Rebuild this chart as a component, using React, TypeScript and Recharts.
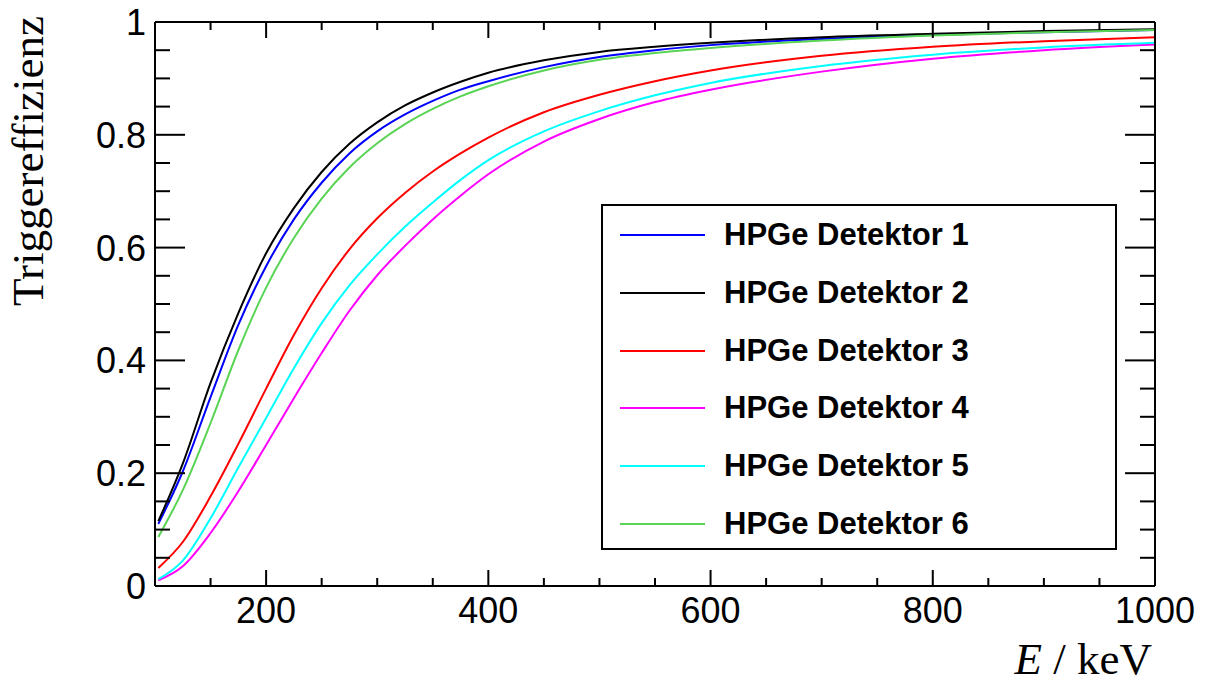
import React from "react";
import { Legend, Line, LineChart, XAxis, YAxis } from "recharts";

// energies in keV, efficiencies
const energies = [103, 125, 150, 175, 200, 225, 250, 275, 300, 325, 350, 375, 400, 450, 500, 550, 600, 700, 800, 900, 1000];

const det1 = [0.11, 0.203, 0.335, 0.463, 0.567, 0.65, 0.715, 0.767, 0.806, 0.836, 0.86, 0.88, 0.895, 0.92, 0.938, 0.95, 0.959, 0.97, 0.977, 0.982, 0.986];
const det2 = [0.115, 0.217, 0.36, 0.484, 0.59, 0.67, 0.734, 0.784, 0.822, 0.852, 0.875, 0.894, 0.91, 0.932, 0.947, 0.956, 0.963, 0.973, 0.979, 0.984, 0.987];
const det3 = [0.032, 0.078, 0.159, 0.252, 0.35, 0.445, 0.528, 0.597, 0.652, 0.697, 0.735, 0.767, 0.795, 0.84, 0.871, 0.895, 0.914, 0.94, 0.956, 0.966, 0.973];
const det4 = [0.01, 0.035, 0.094, 0.168, 0.25, 0.333, 0.413, 0.488, 0.551, 0.603, 0.65, 0.692, 0.73, 0.788, 0.828, 0.858, 0.88, 0.912, 0.935, 0.95, 0.96];
const det5 = [0.012, 0.045, 0.12, 0.21, 0.298, 0.386, 0.466, 0.533, 0.588, 0.637, 0.68, 0.72, 0.755, 0.806, 0.842, 0.87, 0.892, 0.922, 0.942, 0.955, 0.963];
const det6 = [0.087, 0.17, 0.289, 0.418, 0.529, 0.617, 0.687, 0.742, 0.785, 0.819, 0.846, 0.868, 0.886, 0.914, 0.933, 0.945, 0.954, 0.967, 0.976, 0.982, 0.986];

const series = [
  { key: "d1", name: "HPGe Detektor 1", color: "#0000ff", values: det1 },
  { key: "d2", name: "HPGe Detektor 2", color: "#000000", values: det2 },
  { key: "d3", name: "HPGe Detektor 3", color: "#ff0000", values: det3 },
  { key: "d4", name: "HPGe Detektor 4", color: "#ff00ff", values: det4 },
  { key: "d5", name: "HPGe Detektor 5", color: "#00ffff", values: det5 },
  { key: "d6", name: "HPGe Detektor 6", color: "#59d454", values: det6 },
];

const xTicks = [100, 150, 200, 250, 300, 350, 400, 450, 500, 550, 600, 650, 700, 750, 800, 850, 900, 950, 1000];
const xMajor = [200, 400, 600, 800, 1000];
const yTicks = [0, 0.05, 0.1, 0.15, 0.2, 0.25, 0.3, 0.35, 0.4, 0.45, 0.5, 0.55, 0.6, 0.65, 0.7, 0.75, 0.8, 0.85, 0.9, 0.95, 1];
const yMajor = [0, 0.2, 0.4, 0.6, 0.8, 1];

const data = energies.map((E, i) => {
  const row: Record<string, number> = { E };
  series.forEach((s) => (row[s.key] = s.values[i]));
  return row;
});

const sans = "'Liberation Sans', Arial, sans-serif";
const serif = "'Liberation Serif', 'Times New Roman', serif";

function BottomTick({ x, y, payload }: any) {
  const major = xMajor.includes(payload.value);
  return (
    <g>
      <line x1={x} x2={x} y1={y} y2={y - (major ? 16 : 8)} stroke="#000" strokeWidth={2} />
      {major && (
        <text x={x} y={y + 37} textAnchor="middle" fontFamily={sans} fontSize={36} fill="#000">
          {payload.value}
        </text>
      )}
    </g>
  );
}

function TopTick({ x, y, payload }: any) {
  const major = xMajor.includes(payload.value);
  return <line x1={x} x2={x} y1={y} y2={y + (major ? 16 : 8)} stroke="#000" strokeWidth={2} />;
}

function LeftTick({ x, y, payload }: any) {
  const major = yMajor.includes(payload.value);
  return (
    <g>
      <line x1={x} x2={x + (major ? 30 : 15)} y1={y} y2={y} stroke="#000" strokeWidth={2} />
      {major && (
        <text x={x - 9} y={y + 13} textAnchor="end" fontFamily={sans} fontSize={36} fill="#000">
          {String(payload.value)}
        </text>
      )}
    </g>
  );
}

function RightTick({ x, y, payload }: any) {
  const major = yMajor.includes(payload.value);
  return <line x1={x} x2={x - (major ? 30 : 15)} y1={y} y2={y} stroke="#000" strokeWidth={2} />;
}

function LegendBox() {
  return (
    <div
      style={{
        boxSizing: "border-box",
        width: 516,
        height: 346,
        border: "2px solid #000",
        background: "#fff",
        position: "relative",
      }}
    >
      {series.map((s, i) => (
        <div key={s.key} style={{ position: "absolute", left: 0, top: 29 + i * 57.8 - 20, height: 40, width: 500 }}>
          <div style={{ position: "absolute", left: 17, top: 19, width: 85, height: 2, background: s.color }} />
          <div
            style={{
              position: "absolute",
              left: 121,
              top: 0,
              lineHeight: "40px",
              fontFamily: sans,
              fontWeight: "bold",
              fontSize: 31,
              color: "#000",
              whiteSpace: "nowrap",
            }}
          >
            {s.name}
          </div>
        </div>
      ))}
    </div>
  );
}

export default function App() {
  return (
    <div style={{ position: "absolute", left: 0, top: 0, width: 1205, height: 684, background: "#fff" }}>
      <LineChart width={1205} height={684} data={data} margin={{ top: 21, right: 49, bottom: 58, left: 95 }}>
        <XAxis
          xAxisId="bottom"
          dataKey="E"
          type="number"
          domain={[100, 1000]}
          ticks={xTicks}
          interval={0}
          height={40}
          tickSize={0}
          tickMargin={0}
          tick={<BottomTick />}
          axisLine={{ stroke: "#000", strokeWidth: 2 }}
          allowDataOverflow
        />
        <XAxis
          xAxisId="top"
          orientation="top"
          dataKey="E"
          type="number"
          domain={[100, 1000]}
          ticks={xTicks}
          interval={0}
          height={1}
          tickSize={0}
          tickMargin={0}
          tick={<TopTick />}
          axisLine={{ stroke: "#000", strokeWidth: 2 }}
          allowDataOverflow
        />
        <YAxis
          yAxisId="left"
          type="number"
          domain={[0, 1]}
          ticks={yTicks}
          interval={0}
          width={60}
          tickSize={0}
          tickMargin={0}
          tick={<LeftTick />}
          axisLine={{ stroke: "#000", strokeWidth: 2 }}
          allowDataOverflow
        />
        <YAxis
          yAxisId="right"
          orientation="right"
          type="number"
          domain={[0, 1]}
          ticks={yTicks}
          interval={0}
          width={1}
          tickSize={0}
          tickMargin={0}
          tick={<RightTick />}
          axisLine={{ stroke: "#000", strokeWidth: 2 }}
          allowDataOverflow
        />
        {series.map((s) => (
          <Line
            key={s.key}
            xAxisId="bottom"
            yAxisId="left"
            dataKey={s.key}
            name={s.name}
            type="monotone"
            stroke={s.color}
            strokeWidth={2}
            dot={false}
            isAnimationActive={false}
          />
        ))}
        <Legend
          layout="vertical"
          align="center"
          verticalAlign="middle"
          content={<LegendBox />}
          wrapperStyle={{ position: "absolute", left: 601, top: 204, width: 516, height: 346 }}
        />
      </LineChart>
      <svg width={1205} height={684} style={{ position: "absolute", left: 0, top: 0, pointerEvents: "none" }}>
        <text x={43} y={16} transform="rotate(-90 43 16)" textAnchor="end" fontFamily={serif} fontSize={45} fill="#000">
          Triggereffizienz
        </text>
        <text x={1152} y={674} textAnchor="end" fontFamily={serif} fontSize={45} fill="#000">
          <tspan fontStyle="italic">E</tspan> / keV
        </text>
      </svg>
    </div>
  );
}
